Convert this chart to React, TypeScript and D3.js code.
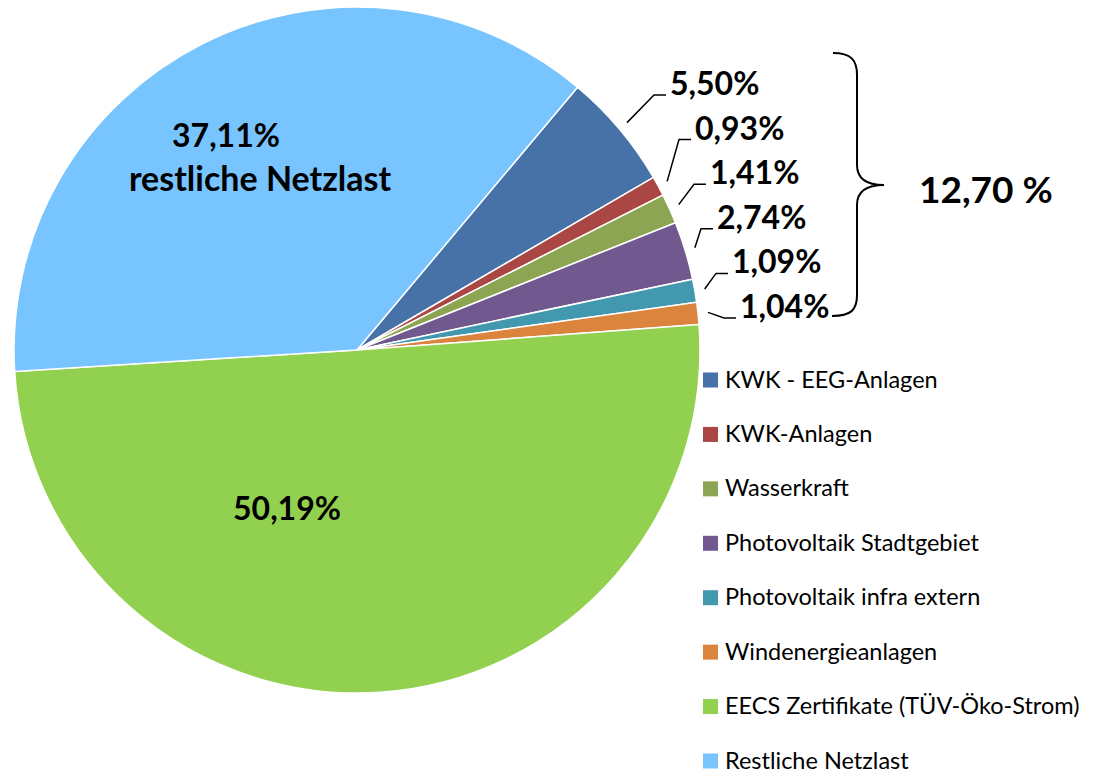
import * as d3 from "d3";

const categories = [
  "KWK - EEG-Anlagen",
  "KWK-Anlagen",
  "Wasserkraft",
  "Photovoltaik Stadtgebiet",
  "Photovoltaik infra extern",
  "Windenergieanlagen",
  "EECS Zertifikate (TÜV-Öko-Strom)",
  "Restliche Netzlast",
];
const shares = [5.5, 0.93, 1.41, 2.74, 1.09, 1.04, 50.19, 37.11];
const sliceColors = [
  "#4672A8",
  "#AA4644",
  "#8BA552",
  "#71588F",
  "#4298AF",
  "#DB843D",
  "#92D050",
  "#77C4FF",
];
const groupTotal = "12,70 %";

const WIDTH = 1103;
const HEIGHT = 773;
const CX = 357;
const CY = 350;
const R = 343;
const START = (40 * Math.PI) / 180;
const FONT = "Lato, 'Open Sans', sans-serif";

// outside labels for the small slices (first six)
const OUT_LABEL_X = [670, 695, 710, 717, 732, 740];
const OUT_BASE0 = 95;
const OUT_STEP = 44.6;

const fmt = (v: number) => v.toFixed(2).replace(".", ",") + "%";

export default function App() {
  const pie = d3
    .pie<number>()
    .value((d) => d)
    .sort(null)
    .startAngle(START)
    .endAngle(START + 2 * Math.PI);
  const arcs = pie(shares);
  const arc = d3.arc<d3.PieArcDatum<number>>().innerRadius(0).outerRadius(R);

  const legendY = d3
    .scalePoint<string>()
    .domain(categories)
    .range([380, 761]);

  const polar = (a: number, r: number) => [CX + r * Math.sin(a), CY - r * Math.cos(a)];

  return (
    <svg
      width={WIDTH}
      height={HEIGHT}
      style={{ position: "absolute", left: 0, top: 0, background: "#fff" }}
      fontFamily={FONT}
    >
      <g transform={`translate(${CX},${CY})`}>
        {arcs.map((a, i) => (
          <path key={i} d={arc(a) || ""} fill={sliceColors[i]} stroke="#fff" strokeWidth={1.5} />
        ))}
      </g>

      {arcs.slice(0, 6).map((a, i) => {
        const mid = (a.startAngle + a.endAngle) / 2;
        const [sx, sy] = polar(mid, R + 10);
        const tx = OUT_LABEL_X[i];
        const by = OUT_BASE0 + i * OUT_STEP;
        return (
          <g key={i}>
            <polyline
              points={`${sx},${sy} ${tx - 16},${by} ${tx - 4},${by}`}
              fill="none"
              stroke="#000"
              strokeWidth={1.5}
            />
            <text x={tx} y={by} fontSize={32} fontWeight="bold" fill="#000">
              {fmt(shares[i])}
            </text>
          </g>
        );
      })}

      {/* inside labels */}
      <text x={226} y={147} fontSize={32} fontWeight="bold" textAnchor="middle">
        {fmt(shares[7])}
      </text>
      <text x={260} y={191} fontSize={34} fontWeight="bold" textAnchor="middle">
        restliche Netzlast
      </text>
      <text x={287} y={520} fontSize={32} fontWeight="bold" textAnchor="middle">
        {fmt(shares[6])}
      </text>

      {/* brace around the small slices */}
      <path
        d="M833,53 C851,53 857,60 857,75 L857,165 C857,178 866,185 884,185 C866,185 857,192 857,205 L857,295 C857,310 851,316 832,316"
        fill="none"
        stroke="#000"
        strokeWidth={2}
      />
      <text x={919} y={203} fontSize={37} fontWeight="bold">
        {groupTotal}
      </text>

      {/* legend */}
      {categories.map((c, i) => {
        const y = legendY(c) ?? 0;
        return (
          <g key={c}>
            <rect x={703} y={y - 7.5} width={15} height={15} fill={sliceColors[i]} />
            <text x={725} y={y + 7.5} fontSize={23.5} fill="#000">
              {c}
            </text>
          </g>
        );
      })}
    </svg>
  );
}
